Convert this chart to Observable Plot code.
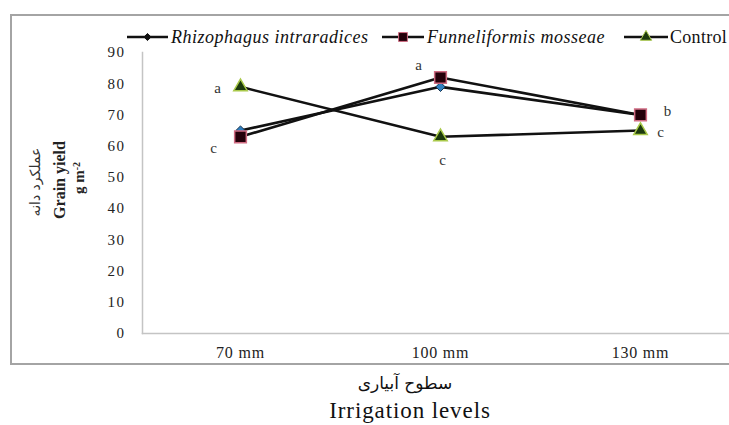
<!DOCTYPE html>
<html><head><meta charset="utf-8">
<script src="https://cdn.jsdelivr.net/npm/d3@7"></script>
<script src="https://cdn.jsdelivr.net/npm/@observablehq/plot@0.6"></script>
<style>
body{margin:0;background:#fff;overflow:hidden}
#wrap{position:relative;width:729px;height:425px;overflow:hidden;background:#fff}
#chart{position:absolute;left:0;top:0}
#box{position:absolute;left:10px;top:14px;width:760px;height:351px;border:2px solid #a4a4a4;box-sizing:border-box;pointer-events:none}
#over{position:absolute;left:0;top:0}
</style>
</head><body>
<div id="wrap"><div id="chart"></div><div id="box"></div><svg id="over" width="729" height="425"></svg></div>
<script>
// ---- data ----
const levels = ["70 mm", "100 mm", "130 mm"];
const seriesNames = ["Rhizophagus intraradices", "Funneliformis mosseae", "Control"];
const rhizophagus = [65, 79, 70];
const funneliformis = [63, 82, 70];
const control = [79, 63, 65];
const yTicks = [0, 10, 20, 30, 40, 50, 60, 70, 80, 90];
const letterLevels = ["70 mm", "70 mm", "100 mm", "100 mm", "130 mm", "130 mm"];
const letterValues = [79, 63, 82, 63, 70, 65];
const letterTexts = ["a", "c", "a", "c", "b", "c"];
const yTitle = "Grain yield";
const yUnit = "g m";
const yUnitSup = "-2";
const yTitleFa = "عملکرد دانه";
const xTitleFa = "سطوح آبیاری";
const xTitle = "Irrigation levels";

// ---- build ----
const toRows = (name, vals) => levels.map((level, i) => ({series: name, level, value: vals[i]}));
const rRows = toRows(seriesNames[0], rhizophagus);
const fRows = toRows(seriesNames[1], funneliformis);
const cRows = toRows(seriesNames[2], control);
const letters = letterTexts.map((t, i) => ({level: letterLevels[i], value: letterValues[i], t}));

const styles = [
  {symbol: "diamond2", r: 4.2, fill: "#2f7fc0", stroke: "#16314d", strokeWidth: 1},
  {symbol: "square", r: 6.6, fill: "#24000a", stroke: "#d06b82", strokeWidth: 1.5},
  {symbol: "triangle", r: 5, fill: "#1d3a0e", stroke: "#a9c94a", strokeWidth: 1.5}
];
const letterDx = [-23, -27, -22, 2, 27, 20];
const letterDy = [1, 11, -12, 23, -4, 2];
const serif = "'Liberation Serif','Times New Roman',serif";

const chart = Plot.plot({
  width: 729, height: 425,
  marginLeft: 142, marginRight: 0, marginTop: 52, marginBottom: 92,
  style: {background: "transparent", fontFamily: serif, color: "#333"},
  x: {type: "point", domain: levels, range: [240, 640], padding: 0},
  y: {domain: [0, 90]},
  marks: [
    Plot.frame({anchor: "left", stroke: "#c4c4c4", strokeWidth: 1.5}),
    Plot.frame({anchor: "bottom", stroke: "#c4c4c4", strokeWidth: 1.5}),
    Plot.axisY({ticks: yTicks, tickSize: 0, tickPadding: 17, fontSize: 15, label: null, fill: "#222"}),
    Plot.axisX({tickSize: 0, tickPadding: 13, fontSize: 16, label: null, fill: "#222"}),
    ...[rRows, fRows, cRows].map(rows => Plot.line(rows, {x: "level", y: "value", stroke: "#111", strokeWidth: 2.6})),
    ...[rRows, fRows, cRows].map((rows, i) => Plot.dot(rows, {x: "level", y: "value", ...styles[i]})),
    ...letters.map((d, i) => Plot.text([d], {x: "level", y: "value", text: "t", dx: letterDx[i], dy: letterDy[i], fontSize: 15, fill: "#333"}))
  ]
});
d3.select(chart).selectAll("g[aria-label='y-axis tick label'] text").style("letter-spacing", "1.5px");
d3.select(chart).selectAll("g[aria-label='x-axis tick label'] text").style("letter-spacing", "0.8px");
document.getElementById("chart").appendChild(chart);

// ---- overlay: legend and titles ----
const over = d3.select("#over");
const legendItems = [
  {x1: 127, x2: 168, tx: 171, italic: true},
  {x1: 382, x2: 424, tx: 427, italic: true},
  {x1: 624, x2: 668, tx: 670, italic: false}
];
const legendY = 37;
const legendSizes = [3.2, 5, 4.2];
legendItems.forEach((it, i) => {
  over.append("line").attr("x1", it.x1).attr("x2", it.x2).attr("y1", legendY).attr("y2", legendY)
    .attr("stroke", "#111").attr("stroke-width", 2.6);
  const st = styles[i];
  const sym = {diamond2: d3.symbolDiamond2, square: d3.symbolSquare, triangle: d3.symbolTriangle}[st.symbol];
  const r = legendSizes[i];
  over.append("path").attr("d", d3.symbol(sym, Math.PI * r * r)())
    .attr("transform", `translate(${(it.x1 + it.x2) / 2},${legendY})`)
    .attr("fill", i === 0 ? "#111" : st.fill).attr("stroke", i === 0 ? "#111" : st.stroke).attr("stroke-width", 1);
  over.append("text").attr("x", it.tx).attr("y", legendY).attr("dy", "0.35em")
    .attr("font-family", serif).attr("font-size", 18).attr("font-style", it.italic ? "italic" : "normal")
    .attr("letter-spacing", it.italic ? "0.5px" : "0.3px").attr("fill", "#111").text(seriesNames[i]);
});

over.append("text").attr("transform", "translate(59,180) rotate(-90)").attr("text-anchor", "middle").attr("dy", "0.35em")
  .attr("font-family", serif).attr("font-weight", "bold").attr("font-size", 16).attr("fill", "#222").text(yTitle);
const unit = over.append("text").attr("transform", "translate(79,178) rotate(-90)").attr("text-anchor", "middle").attr("dy", "0.35em")
  .attr("font-family", serif).attr("font-weight", "bold").attr("font-size", 15).attr("fill", "#222");
unit.append("tspan").text(yUnit);
unit.append("tspan").attr("dy", "-0.4em").attr("font-size", 10).text(yUnitSup);
over.append("text").attr("transform", "translate(35,182) rotate(-90)").attr("text-anchor", "middle").attr("dy", "0.35em")
  .attr("font-family", "'DejaVu Sans',sans-serif").attr("font-size", 14).attr("fill", "#333").attr("direction", "rtl").text(yTitleFa);

over.append("text").attr("x", 405).attr("y", 383).attr("text-anchor", "middle").attr("dy", "0.35em")
  .attr("font-family", "'DejaVu Sans',sans-serif").attr("font-size", 17).attr("fill", "#111").attr("direction", "rtl").text(xTitleFa);
over.append("text").attr("x", 410).attr("y", 410).attr("text-anchor", "middle").attr("dy", "0.35em")
  .attr("font-family", serif).attr("font-size", 23).attr("letter-spacing", "0.9px").attr("fill", "#111").text(xTitle);
</script>
</body></html>
